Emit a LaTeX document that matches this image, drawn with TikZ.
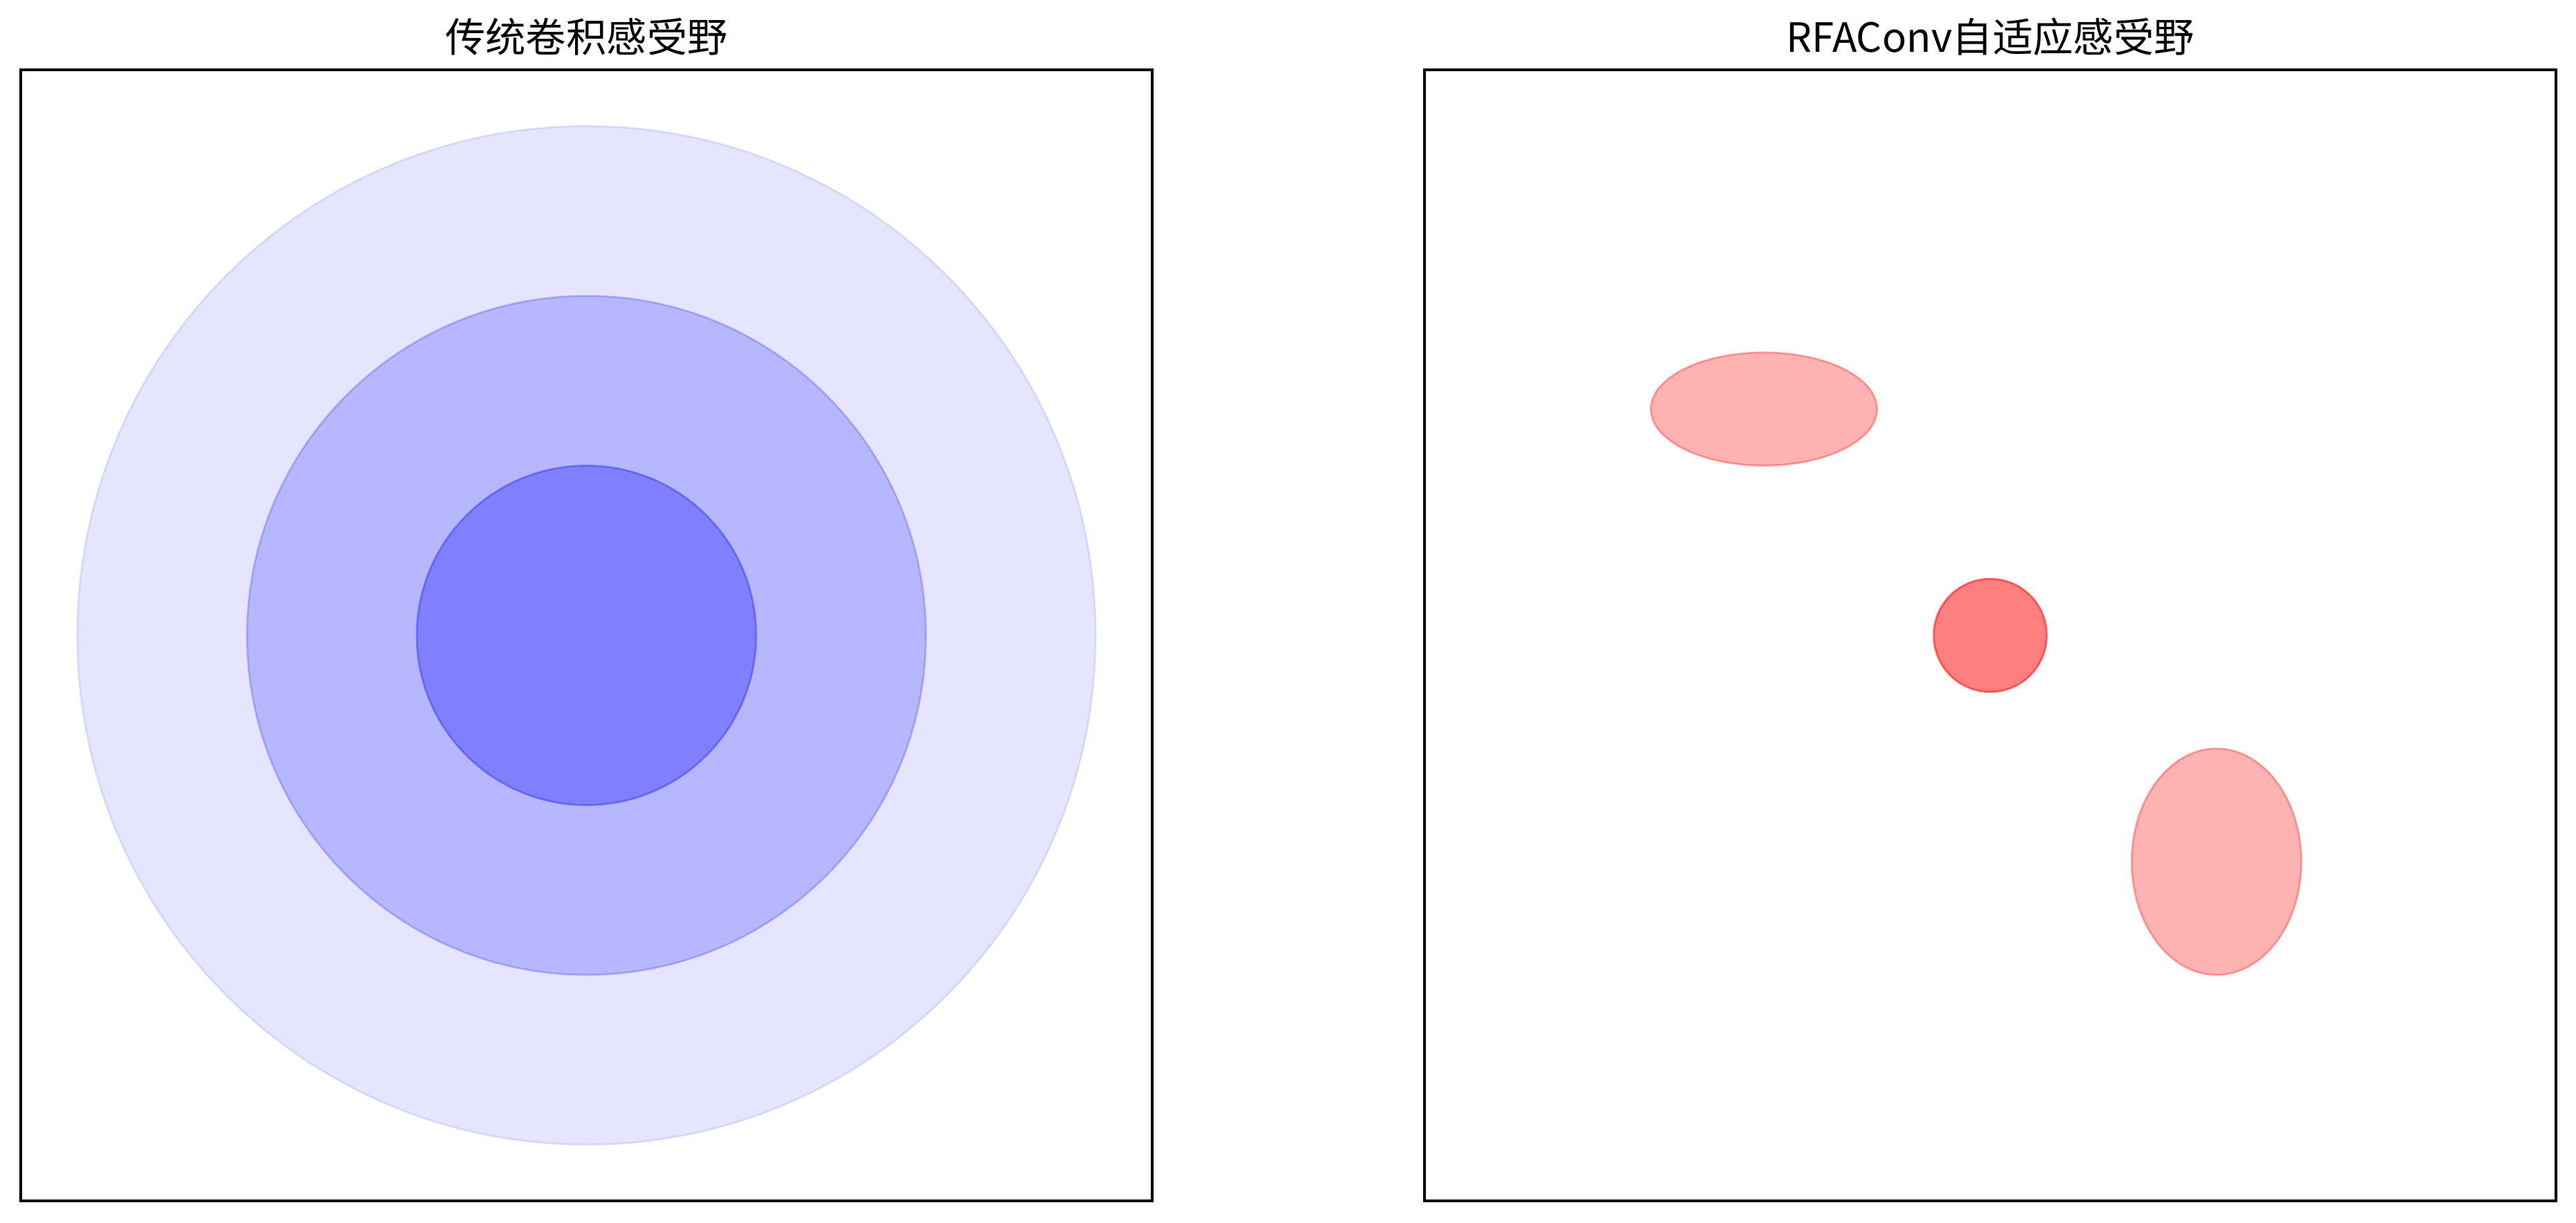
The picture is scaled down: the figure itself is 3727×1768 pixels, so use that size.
\documentclass[tikz,border=0pt]{standalone}
\usepackage{fontspec}
\setmainfont{Noto Sans CJK SC}
\begin{document}
\begin{tikzpicture}[x=0.01cm,y=-0.01cm,
  frame/.style={draw=black,line width=0.033cm},
  ptitle/.style={font=\fontsize{16.6pt}{20pt}\selectfont,anchor=base,inner sep=0pt},
  bluedisc/.style={draw=blue,fill=blue,line width=0.028cm,opacity=#1},
  reddisc/.style={draw=red,fill=red,line width=0.028cm,opacity=#1}]
\useasboundingbox (0,0) rectangle (3727,1768);
% left panel
\draw[bluedisc=0.1] (848.5,919) circle [radius=736.7];
\draw[bluedisc=0.2] (848.5,919) circle [radius=491.1];
\draw[bluedisc=0.3] (848.5,919) circle [radius=245.6];
\draw[frame] (30,101) rectangle (1667,1737);
\node[ptitle] (t1) at (848.5,75) {传统卷积感受野};
% right panel
\draw[reddisc=0.5] (2879.5,919) circle [radius=81.85];
\draw[reddisc=0.3] (2552.1,591.6) ellipse [x radius=163.7, y radius=81.85];
\draw[reddisc=0.3] (3206.9,1246.4) ellipse [x radius=122.8, y radius=163.7];
\draw[frame] (2061,101) rectangle (3698,1737);
\node[ptitle] (t2) at (2879.5,75) {RFAConv自适应感受野};
\end{tikzpicture}
\end{document}
